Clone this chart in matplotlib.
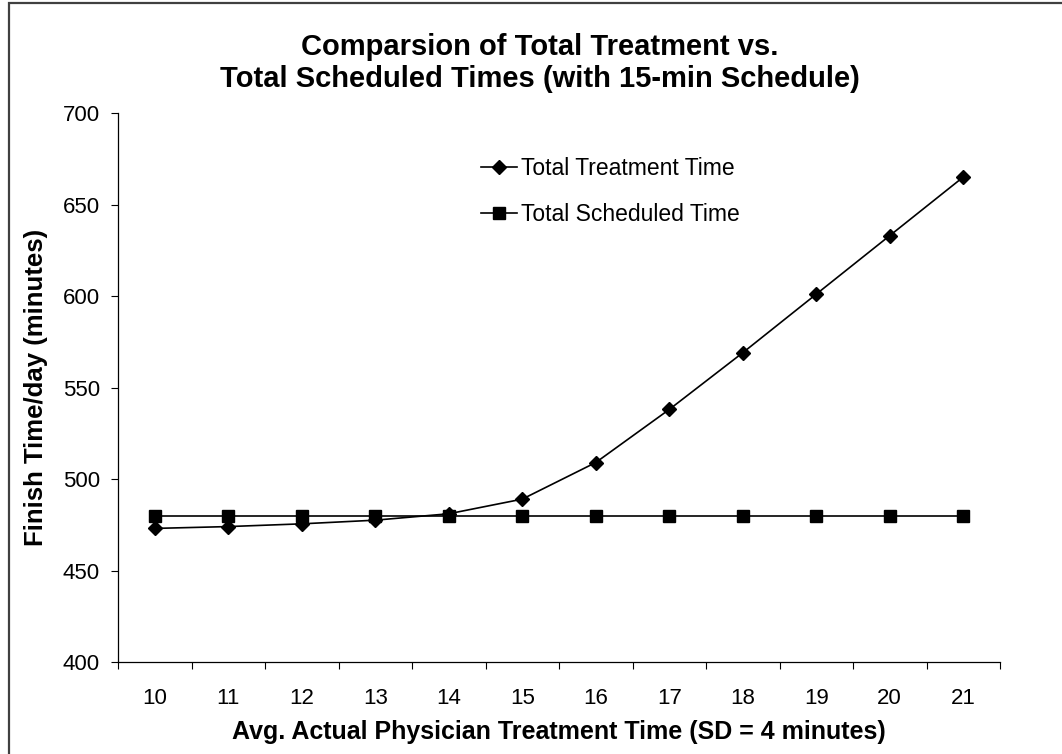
import matplotlib

matplotlib.use("Agg")

import matplotlib.pyplot as plt
import numpy as np
from matplotlib.patches import Rectangle

plt.rcParams["font.family"] = ["Liberation Sans", "DejaVu Sans"]

# avg. actual physician treatment time (categories)
categories = [10, 11, 12, 13, 14, 15, 16, 17, 18, 19, 20, 21]
treatment_time = [473, 474, 475.5, 477.5, 481, 489, 509, 538, 569, 601, 633, 665]
scheduled_time = [480] * 12
y_ticks = [400, 450, 500, 550, 600, 650, 700]

W, H = 1062, 754
fig = plt.figure(figsize=(W / 100, H / 100), dpi=100)
ax = fig.add_axes([118 / W, 1 - 662 / H, 882 / W, 549 / H])

# outer chart border (runs off the right and bottom edges)
fig.patches.append(Rectangle((9 / W, -0.05), 1.1, 1.05 - 3 / H, transform=fig.transFigure,
                             fill=False, edgecolor="#404040", linewidth=1.6))

x = np.arange(len(categories))
ax.plot(x, treatment_time, color="black", linewidth=1.2, marker="D", markersize=6.8,
        label="Total Treatment Time")
ax.plot(x, scheduled_time, color="black", linewidth=1.2, marker="s", markersize=8.5,
        label="Total Scheduled Time")

ax.set_xlim(-0.5, len(categories) - 0.5)
ax.set_ylim(400, 700)
ax.set_yticks(y_ticks)
ax.set_xticks(x)
ax.set_xticklabels([str(c) for c in categories])
ax.set_xticks(np.arange(-0.5, len(categories)), minor=True)
ax.tick_params(axis="x", which="major", length=0, pad=19, labelsize=16)
ax.tick_params(axis="x", which="minor", length=5, width=0.8, direction="out")
ax.tick_params(axis="y", length=5, width=0.8, direction="out", pad=8, labelsize=16)

for side in ("top", "right"):
    ax.spines[side].set_visible(False)
for side in ("left", "bottom"):
    ax.spines[side].set_linewidth(0.9)

ax.set_xlabel("Avg. Actual Physician Treatment Time (SD = 4 minutes)", fontsize=18,
              fontweight="bold", labelpad=8)
ax.set_ylabel("Finish Time/day (minutes)", fontsize=18.5, fontweight="bold", labelpad=11)

fig.text(540 / W, 1 - 55 / H, "Comparsion of Total Treatment vs.",
         ha="center", va="baseline", fontsize=21, fontweight="bold")
fig.text(540 / W, 1 - 87 / H, "Total Scheduled Times (with 15-min Schedule)",
         ha="center", va="baseline", fontsize=21, fontweight="bold")

ax.legend(frameon=False, loc="upper left", bbox_to_anchor=(460 / W, 1 - 136 / H),
          bbox_transform=fig.transFigure, fontsize=16.5, labelspacing=1.0,
          handlelength=1.58, handletextpad=0.2)

fig.savefig("out.png", dpi=100)
